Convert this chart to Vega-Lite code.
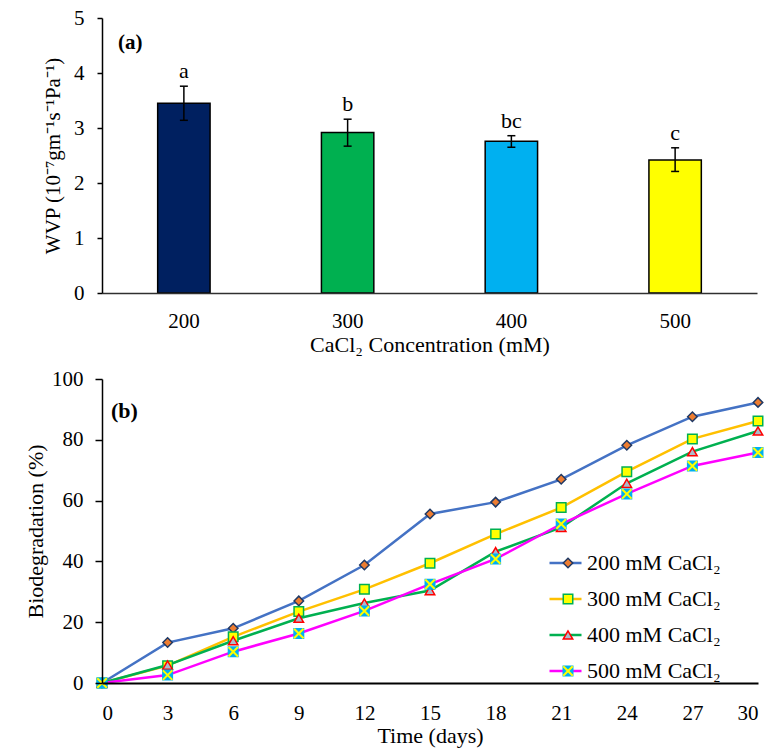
{
  "$schema": "https://vega.github.io/schema/vega-lite/v6.json",
  "background": "white",
  "padding": {"left": 24, "top": 7, "right": 10, "bottom": 5},
  "config": {
    "font": "Liberation Serif",
    "view": {"stroke": null},
    "axis": {"labelFont": "Liberation Serif", "titleFont": "Liberation Serif", "labelColor": "black", "titleColor": "black", "titleFontWeight": "normal"},
    "legend": {"labelFont": "Liberation Serif", "labelColor": "black"}
  },
  "datasets": {
    "wvp": [
      {"conc": "200", "wvp": 3.45, "low": 3.14, "high": 3.76, "letter": "a"},
      {"conc": "300", "wvp": 2.92, "low": 2.67, "high": 3.16, "letter": "b"},
      {"conc": "400", "wvp": 2.76, "low": 2.65, "high": 2.86, "letter": "bc"},
      {"conc": "500", "wvp": 2.42, "low": 2.21, "high": 2.64, "letter": "c"}
    ],
    "bio": [
      {"series": "200 mM CaCl₂", "day": 0, "value": 0},
      {"series": "200 mM CaCl₂", "day": 3, "value": 13.3},
      {"series": "200 mM CaCl₂", "day": 6, "value": 18.0},
      {"series": "200 mM CaCl₂", "day": 9, "value": 27.0},
      {"series": "200 mM CaCl₂", "day": 12, "value": 38.8},
      {"series": "200 mM CaCl₂", "day": 15, "value": 55.6},
      {"series": "200 mM CaCl₂", "day": 18, "value": 59.5},
      {"series": "200 mM CaCl₂", "day": 21, "value": 67.0},
      {"series": "200 mM CaCl₂", "day": 24, "value": 78.2},
      {"series": "200 mM CaCl₂", "day": 27, "value": 87.6},
      {"series": "200 mM CaCl₂", "day": 30, "value": 92.3},
      {"series": "300 mM CaCl₂", "day": 0, "value": 0},
      {"series": "300 mM CaCl₂", "day": 3, "value": 5.7},
      {"series": "300 mM CaCl₂", "day": 6, "value": 15.2},
      {"series": "300 mM CaCl₂", "day": 9, "value": 23.5},
      {"series": "300 mM CaCl₂", "day": 12, "value": 30.8},
      {"series": "300 mM CaCl₂", "day": 15, "value": 39.4},
      {"series": "300 mM CaCl₂", "day": 18, "value": 49.0},
      {"series": "300 mM CaCl₂", "day": 21, "value": 57.7},
      {"series": "300 mM CaCl₂", "day": 24, "value": 69.5},
      {"series": "300 mM CaCl₂", "day": 27, "value": 80.3},
      {"series": "300 mM CaCl₂", "day": 30, "value": 86.2},
      {"series": "400 mM CaCl₂", "day": 0, "value": 0},
      {"series": "400 mM CaCl₂", "day": 3, "value": 5.9},
      {"series": "400 mM CaCl₂", "day": 6, "value": 13.9},
      {"series": "400 mM CaCl₂", "day": 9, "value": 21.3},
      {"series": "400 mM CaCl₂", "day": 12, "value": 26.3},
      {"series": "400 mM CaCl₂", "day": 15, "value": 30.4},
      {"series": "400 mM CaCl₂", "day": 18, "value": 43.2},
      {"series": "400 mM CaCl₂", "day": 21, "value": 51.2},
      {"series": "400 mM CaCl₂", "day": 24, "value": 65.7},
      {"series": "400 mM CaCl₂", "day": 27, "value": 76.1},
      {"series": "400 mM CaCl₂", "day": 30, "value": 82.9},
      {"series": "500 mM CaCl₂", "day": 0, "value": 0},
      {"series": "500 mM CaCl₂", "day": 3, "value": 2.6},
      {"series": "500 mM CaCl₂", "day": 6, "value": 10.3},
      {"series": "500 mM CaCl₂", "day": 9, "value": 16.3},
      {"series": "500 mM CaCl₂", "day": 12, "value": 23.7},
      {"series": "500 mM CaCl₂", "day": 15, "value": 32.5},
      {"series": "500 mM CaCl₂", "day": 18, "value": 40.8},
      {"series": "500 mM CaCl₂", "day": 21, "value": 52.3},
      {"series": "500 mM CaCl₂", "day": 24, "value": 62.2},
      {"series": "500 mM CaCl₂", "day": 27, "value": 71.4},
      {"series": "500 mM CaCl₂", "day": 30, "value": 75.8}
    ]
  },
  "spacing": 86,
  "bounds": "flush",
  "resolve": {"scale": {"color": "independent"}},
  "vconcat": [
    {
      "width": 655,
      "height": 275,
      "data": {"name": "wvp"},
      "title": {"text": "(a)", "anchor": "start", "frame": "group", "orient": "top", "offset": -57, "dx": 16, "baseline": "middle", "fontSize": 21, "fontWeight": "bold", "font": "Liberation Serif", "color": "black"},
      "layer": [
        {
          "mark": {"type": "bar", "stroke": "black", "strokeWidth": 1.5},
          "encoding": {
            "x": {"field": "conc", "type": "nominal", "scale": {"paddingInner": 0.68, "paddingOuter": 0.34},
              "axis": {"title": "CaCl₂ Concentration (mM)", "labelAngle": 0, "ticks": false, "domain": true, "domainColor": "#303030", "domainOpacity": 1, "domainWidth": 1.5, "labelPadding": 17, "labelFontSize": 21, "titleFontSize": 22, "titlePadding": 3, "grid": false, "zindex": 2}},
            "y": {"field": "wvp", "type": "quantitative", "scale": {"domain": [0, 5]},
              "axis": {"title": "WVP (10⁻⁷gm⁻¹s⁻¹Pa⁻¹)", "values": [0, 1, 2, 3, 4, 5], "domain": true, "domainColor": "#000000", "domainOpacity": 1, "domainWidth": 1.5, "ticks": true, "tickColor": "#000000", "tickOpacity": 1, "tickSize": 5, "tickWidth": 1.5, "labelPadding": 13, "labelFontSize": 21, "titleFontSize": 21, "titlePadding": 10, "grid": false, "zindex": 2}},
            "color": {"field": "conc", "type": "nominal", "scale": {"domain": ["200", "300", "400", "500"], "range": ["#002060", "#00B050", "#00B0F0", "#FFFF00"]}, "legend": null}
          }
        },
        {
          "mark": {"type": "rule", "strokeWidth": 1.5, "color": "black"},
          "encoding": {
            "x": {"field": "conc", "type": "nominal"},
            "y": {"field": "low", "type": "quantitative"},
            "y2": {"field": "high"}
          }
        },
        {
          "mark": {"type": "tick", "orient": "horizontal", "size": 8, "thickness": 1.5, "color": "black", "opacity": 1},
          "encoding": {
            "x": {"field": "conc", "type": "nominal"},
            "y": {"field": "low", "type": "quantitative"}
          }
        },
        {
          "mark": {"type": "tick", "orient": "horizontal", "size": 8, "thickness": 1.5, "color": "black", "opacity": 1},
          "encoding": {
            "x": {"field": "conc", "type": "nominal"},
            "y": {"field": "high", "type": "quantitative"}
          }
        },
        {
          "mark": {"type": "text", "dy": -8, "baseline": "alphabetic", "fontSize": 22, "font": "Liberation Serif", "color": "black"},
          "encoding": {
            "x": {"field": "conc", "type": "nominal"},
            "y": {"field": "high", "type": "quantitative"},
            "text": {"field": "letter"}
          }
        }
      ]
    },
    {
      "width": 656,
      "height": 304,
      "data": {"name": "bio"},
      "title": {"text": "(b)", "anchor": "start", "frame": "group", "orient": "top", "offset": -65, "dx": 9, "baseline": "middle", "fontSize": 22, "fontWeight": "bold", "font": "Liberation Serif", "color": "black"},
      "layer": [
        {
          "mark": {"type": "line", "strokeWidth": 2.5},
          "encoding": {
            "x": {"field": "day", "type": "quantitative", "scale": {"domain": [0, 30], "nice": false},
              "axis": {"title": "Time (days)", "values": [0, 3, 6, 9, 12, 15, 18, 21, 24, 27, 30], "ticks": false, "domain": true, "domainColor": "#000000", "domainOpacity": 1, "domainWidth": 2, "labelPadding": 19, "labelFontSize": 21, "titleFontSize": 22, "titlePadding": 2, "grid": false, "zindex": 2}},
            "y": {"field": "value", "type": "quantitative", "scale": {"domain": [0, 100]},
              "axis": {"title": "Biodegradation (%)", "values": [0, 20, 40, 60, 80, 100], "domain": true, "domainColor": "#000000", "domainOpacity": 1, "domainWidth": 1.5, "ticks": true, "tickColor": "#000000", "tickOpacity": 1, "tickSize": 7, "tickWidth": 1.5, "labelPadding": 12, "labelFontSize": 21, "titleFontSize": 22, "titlePadding": 4, "grid": false, "zindex": 2}},
            "color": {"field": "series", "type": "nominal",
              "scale": {"domain": ["200 mM CaCl₂", "300 mM CaCl₂", "400 mM CaCl₂", "500 mM CaCl₂"], "range": ["#4472C4", "#FFC000", "#00B050", "#FF00FF"]},
              "legend": {"orient": "none", "legendX": 446, "legendY": 173, "title": null, "symbolType": "stroke", "symbolSize": 1024, "symbolStrokeWidth": 2.5, "labelFontSize": 22, "labelOffset": 4, "rowPadding": 14, "clipHeight": 22, "padding": 0}}
          }
        },
        {
          "mark": {"type": "point", "filled": true, "opacity": 1, "size": 90, "strokeWidth": 1.5},
          "encoding": {
            "x": {"field": "day", "type": "quantitative"},
            "y": {"field": "value", "type": "quantitative"},
            "shape": {"field": "series", "type": "nominal", "scale": {"range": ["diamond", "square", "triangle-up", "square"]},
              "legend": {"orient": "none", "legendX": 455, "legendY": 173, "title": null, "symbolSize": 90, "symbolStrokeWidth": 1.5, "labelExpr": "''", "labelFontSize": 22, "rowPadding": 14, "clipHeight": 22, "padding": 0}},
            "fill": {"field": "series", "type": "nominal", "scale": {"range": ["#ED7D31", "#FFFF00", "#ADB9CA", "#00B0F0"]},
              "legend": {"orient": "none", "legendX": 455, "legendY": 173, "title": null, "symbolSize": 90, "symbolStrokeWidth": 1.5, "labelExpr": "''", "labelFontSize": 22, "rowPadding": 14, "clipHeight": 22, "padding": 0}},
            "stroke": {"field": "series", "type": "nominal", "scale": {"range": ["#1F3864", "#00B050", "#FF0000", "#00B0F0"]},
              "legend": {"orient": "none", "legendX": 455, "legendY": 173, "title": null, "symbolSize": 90, "symbolStrokeWidth": 1.5, "labelExpr": "''", "labelFontSize": 22, "rowPadding": 14, "clipHeight": 22, "padding": 0}}
          }
        },
        {
          "transform": [{"filter": "datum.series === '500 mM CaCl₂'"}],
          "mark": {"type": "point", "filled": false, "opacity": 1, "size": 90, "strokeWidth": 2, "stroke": "#FFFF00"},
          "encoding": {
            "x": {"field": "day", "type": "quantitative"},
            "y": {"field": "value", "type": "quantitative"},
            "shape": {"field": "series", "type": "nominal",
              "scale": {"domain": ["200 mM CaCl₂", "300 mM CaCl₂", "400 mM CaCl₂", "500 mM CaCl₂"], "range": ["M0,0", "M0,0", "M0,0", "M-1,-1L1,1M1,-1L-1,1"]},
              "legend": {"orient": "none", "legendX": 455, "legendY": 173, "title": null, "symbolSize": 90, "symbolStrokeWidth": 2, "symbolStrokeColor": "#FFFF00", "symbolFillColor": "transparent", "labelExpr": "''", "labelFontSize": 22, "rowPadding": 14, "clipHeight": 22, "padding": 0}}
          }
        }
      ],
      "resolve": {"scale": {"shape": "independent", "fill": "independent", "stroke": "independent"}}
    }
  ]
}
